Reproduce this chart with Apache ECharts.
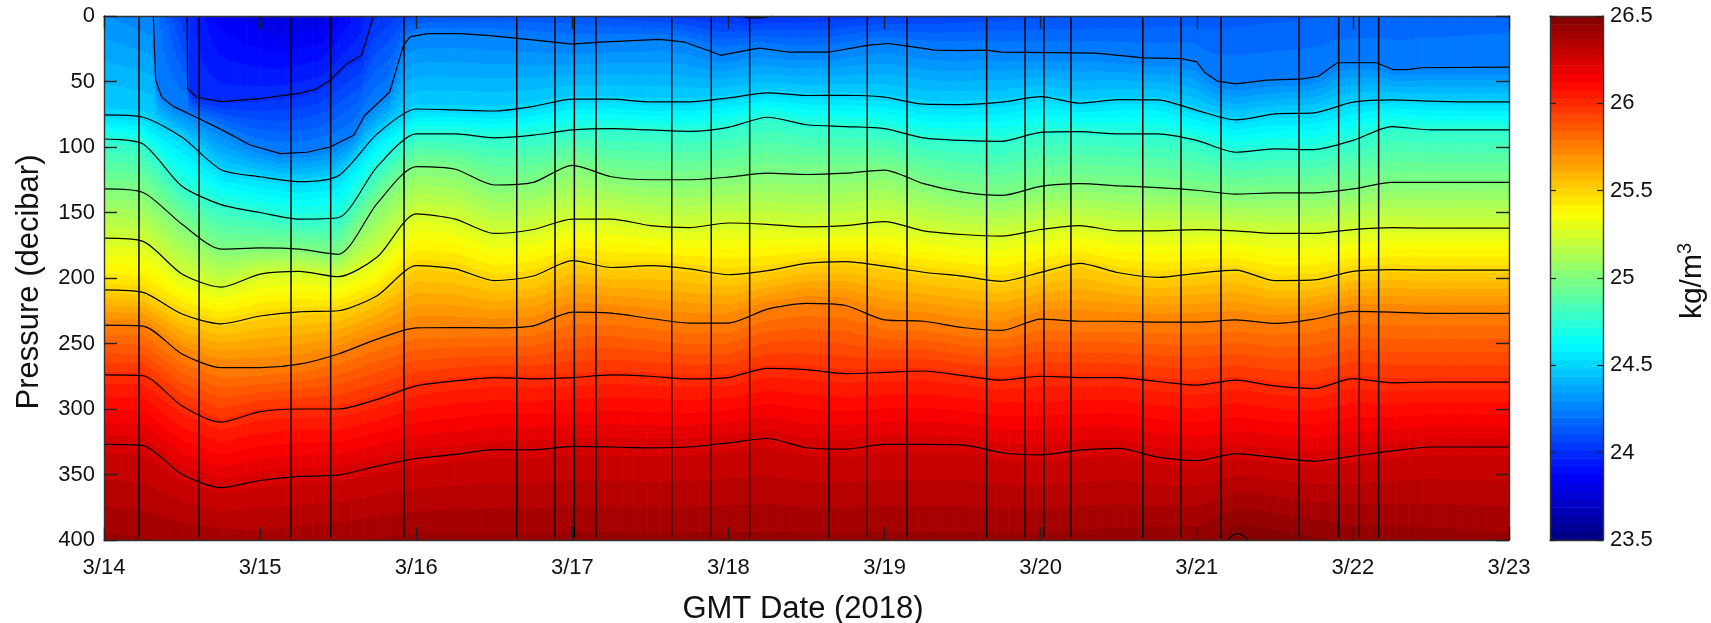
<!DOCTYPE html>
<html><head><meta charset="utf-8">
<style>html,body{margin:0;padding:0;background:#fff}#c{width:1711px;height:623px}</style>
<script src="https://cdn.jsdelivr.net/npm/echarts@6/dist/echarts.min.js"></script>
</head><body><div id="c"></div>
<script>
// ---- values ----
const dateLabels = ['3/14','3/15','3/16','3/17','3/18','3/19','3/20','3/21','3/22','3/23'];
// sample times, days after 3/14
const days = [0,0.25,0.5,0.75,1,1.25,1.5,1.75,2,2.25,2.5,2.75,3,3.25,3.5,3.75,4,4.25,4.5,4.75,5,5.25,5.5,5.75,6,6.25,6.5,6.75,7,7.25,7.5,7.75,8,8.25,8.5,8.75,9];
// pressure of each isopycnal (decibar)
const rho245  = [75.5,77.3,92.6,117.3,122.7,126.5,122,90,71,71.7,72.5,69,63.5,63.5,65.6,65.6,62.5,58.7,60.7,60.5,62,67.3,67.6,65.8,61.5,66.6,63.8,64,72,79.3,74.7,74,65.8,64,65,65.6,65.6];
const rho2475 = [93.9,97.7,130,144,150,155,154,115,90,90,93,91,87,86,87,88,85,77.3,83,84.4,86,93,95,95.7,88.8,88.3,90,90,95,104,101.5,102,95,84.4,87,87,87];
const rho250  = [132,134.7,159,178,177,178,182,143,115,117,129,127,114,122.7,125,125,123,120,121,120,117.6,128,134.5,137,130,128,129.6,131,133,136,135,135,132,127,127,127,127];
const rho2525 = [169.6,172,197,207,197,195,199,184,151,155,166,163,155,155,160,161.5,158,159,161,160,157,164,166.8,168,163,160,164,164,163,164,166,166,163,161.5,162,162,162];
const rho255  = [209,211,227.5,235,229,225.8,225,213.5,190.6,193,202,198.5,186.7,192,190.6,193,197.5,194.4,188.8,187.5,191,195.6,198.6,202.5,195.7,188.8,196,199.5,196.4,194,202,201.5,194.9,193.6,194,194,194];
const rho2575 = [236,236.7,258,268.4,268.4,265.8,258,246.7,238,237.8,238,236.5,226,226.8,230.9,234.4,234.4,223.7,219.4,221,231.9,233,237.8,240,231.4,233,233,233.7,233.7,232,234.7,231.4,225.5,226,227,227,227];
const rho260  = [274,274.6,297.7,310,302,300,300,292.6,282.4,278.6,276,277,276,274,275,277,276,269,270,273,272,271,274.5,278,275,276,276,279,281.8,278,282.4,284.5,276.8,280,279.5,279.5,279.5];
const rho2625 = [327,328,350,360,354.6,351.5,350.5,343.6,337.8,334.7,331,331.2,328.6,329,329.6,329,325.8,322.5,329.6,330.6,327,327,327.4,333.4,335,331.4,330,336.8,339.4,334,337,339.8,336,332,329,329,329];
// the two shallow isopycnals reach the surface, so they have their own times
const rho2425Days = [0.316,0.331,0.37,0.444,0.604,0.765,0.935,1.128,1.3,1.448,1.6,1.67,1.83,1.865,1.918,1.96,2.07,2.28,2.47,2.73,2.88,3.0,3.18,3.56,3.72,3.86,3.95,4.15,4.2,4.38,4.65,4.89,5.02,5.15,5.32,5.49,5.65,5.75,6.35,6.66,6.9,7.0,7.05,7.13,7.25,7.45,7.68,7.78,7.9,8.15,8.26,8.35,8.44,9];
const rho2425 = [0,49,62,69,78,87.5,98.5,105,104,100,91,76,58,44,22.4,16,13.5,13.5,15,18,20,21.4,20,17.9,20,26,30,25.5,24.5,27.5,27.5,22.4,21,23,26,26.5,26,27.6,28.3,32,32.6,35,42.9,49.7,51.8,49,48,46,35.7,35.7,41,41,39.5,39];
const rho240Days = [0.532,0.536,0.594,0.75,1.0,1.25,1.363,1.448,1.555,1.65,1.68,1.725];
const rho240 = [0,55.6,62,65.3,63,59,55.6,49,36.5,30,18.6,0];
// tiny closed contours touching the top and bottom edge
const topBumpDays = [4.08,4.12,4.22,4.28];
const topBump = [0,1.5,1.5,0];
const bottomBumpDays = [7.2,7.23,7.27,7.3,7.33];
const bottomBump = [400,396,395,397,400];
// density at the surface and at 400 decibar
const surfaceDays = [0,0.316,0.532,0.75,1.1,1.4,1.725,2,2.5,3,4.1,5,6,7,8,9];
const surfaceRho = [24.3,24.25,24.0,23.85,23.77,23.8,24.0,24.1,24.13,24.12,24.0,24.05,24.1,24.13,24.16,24.18];
const bottomDays = [0,1,2,3,4,5,6,7,7.3,8,9];
const bottomRho = [26.42,26.38,26.42,26.42,26.42,26.42,26.42,26.44,26.5,26.44,26.42];
// CTD profile times
const stationDays = [0.224,0.609,1.198,1.452,1.922,2.644,2.889,3.013,3.152,3.637,3.89,4.136,4.644,4.889,5.144,5.654,5.9,6.021,6.194,6.654,6.899,7.155,7.655,7.909,8.041,8.165];

// ---- tables built from the arrays above ----
const isopycnals = [
  {rho:24.0,  xs:rho240Days,  ps:rho240},
  {rho:24.25, xs:rho2425Days, ps:rho2425},
  {rho:24.5,  xs:days, ps:rho245},
  {rho:24.75, xs:days, ps:rho2475},
  {rho:25.0,  xs:days, ps:rho250},
  {rho:25.25, xs:days, ps:rho2525},
  {rho:25.5,  xs:days, ps:rho255},
  {rho:25.75, xs:days, ps:rho2575},
  {rho:26.0,  xs:days, ps:rho260},
  {rho:26.25, xs:days, ps:rho2625}
];
const RMIN = 23.5, RMAX = 26.5, NBANDS = 64;
function clamp01(v){return Math.max(0,Math.min(1,v));}
function jet(v){
  const r=clamp01(Math.min(4*v-1.5,-4*v+4.5)), g=clamp01(Math.min(4*v-0.5,-4*v+3.5)), b=clamp01(Math.min(4*v+0.5,-4*v+2.5));
  return 'rgb('+Math.round(r*255)+','+Math.round(g*255)+','+Math.round(b*255)+')';
}
const bandColors=[]; for(let i=0;i<NBANDS;i++) bandColors.push(jet((i+0.5)/NBANDS));
function bandOf(rho){return Math.max(0,Math.min(NBANDS-1,Math.floor((rho-RMIN)/(RMAX-RMIN)*NBANDS)));}
function at(xs,ys,x){
  if(x<xs[0]||x>xs[xs.length-1]) return null;
  for(let i=1;i<xs.length;i++){ if(x<=xs[i]){const t=(x-xs[i-1])/(xs[i]-xs[i-1]); return ys[i-1]+t*(ys[i]-ys[i-1]);} }
  return ys[ys.length-1];
}
function columnStops(d){
  const knots=[{p:0,r:at(surfaceDays,surfaceRho,d)}];
  isopycnals.forEach(function(l){
    const p=at(l.xs,l.ps,d), last=knots[knots.length-1];
    if(p!==null&&p>last.p&&p<400&&l.rho>last.r) knots.push({p:p,r:l.rho});
  });
  knots.push({p:400,r:at(bottomDays,bottomRho,d)});
  const stops=[]; let band=bandOf(knots[0].r);
  stops.push({offset:0,color:bandColors[band]});
  for(let k=1;k<knots.length;k++){
    const a=knots[k-1], b=knots[k], end=bandOf(b.r);
    while(band<end){
      const edge=RMIN+(band+1)*(RMAX-RMIN)/NBANDS;
      const off=Math.max(0,Math.min(1,(a.p+(edge-a.r)/(b.r-a.r)*(b.p-a.p))/400));
      stops.push({offset:off,color:bandColors[band]});
      band++;
      stops.push({offset:off,color:bandColors[band]});
    }
  }
  stops.push({offset:1,color:bandColors[band]});
  return stops;
}
const columns=[]; for(let i=0;i<432;i++) columns.push([i/48,(i+1)/48]);
const levelCells=[]; for(let i=0;i<NBANDS;i++) levelCells.push([i,RMIN+i*(RMAX-RMIN)/NBANDS,RMIN+(i+1)*(RMAX-RMIN)/NBANDS]);

function pairs(xs,ps){return xs.map(function(x,i){return [x,ps[i]];});}
function contour(data,smooth){return {type:'line',xAxisIndex:0,yAxisIndex:0,data:data,showSymbol:false,symbol:'none',smooth:smooth,silent:true,z:5,clip:true,
  lineStyle:{color:'#000',width:1.2},animation:false};}

const FONT='"Liberation Sans",Arial,sans-serif';
const labelStyle={color:'#111',fontSize:22,fontFamily:FONT};
const edge={onZero:false,lineStyle:{color:'#333',width:1.4}};
const yLabelAlign={verticalAlignMinLabel:'middle',verticalAlignMaxLabel:'middle',padding:[4,0,0,0]};

const series=[
 {type:'custom',xAxisIndex:0,yAxisIndex:0,data:columns,progressive:0,silent:true,z:1,clip:true,animation:false,
  encode:{x:[0,1]},
  renderItem:function(params,api){
    const d0=api.value(0), d1=api.value(1);
    const a=api.coord([d0,0]), b=api.coord([d1,400]);
    return {type:'rect',shape:{x:a[0],y:a[1],width:b[0]-a[0]+0.7,height:b[1]-a[1]},
      style:{fill:new echarts.graphic.LinearGradient(0,a[1],0,b[1],columnStops((d0+d1)/2),true)}};
  }},
 {type:'custom',xAxisIndex:2,yAxisIndex:2,data:levelCells,progressive:0,silent:true,z:1,animation:false,
  encode:{y:[1,2]},
  renderItem:function(params,api){
    const i=api.value(0);
    const a=api.coord([0,api.value(2)]), b=api.coord([1,api.value(1)]);
    return {type:'rect',shape:{x:a[0],y:a[1],width:b[0]-a[0],height:b[1]-a[1]+0.6},style:{fill:bandColors[i]}};
  }}
];
stationDays.forEach(function(d){
  const s=contour([[d,1],[d,398]],false); s.lineStyle={color:'#000',width:1.5}; s.z=6; series.push(s);
});
[[rho240Days,rho240,false],[rho2425Days,rho2425,false],[days,rho245,0.25],[days,rho2475,0.25],[days,rho250,0.25],[days,rho2525,0.25],
 [days,rho255,0.25],[days,rho2575,0.25],[days,rho260,0.25],[days,rho2625,0.25],[topBumpDays,topBump,false],[bottomBumpDays,bottomBump,false]
].forEach(function(c){series.push(contour(pairs(c[0],c[1]),c[2]));});

const option={
 animation:false,backgroundColor:'#fff',
 grid:[{left:104,top:16,width:1405,height:524,outerBoundsMode:'none'},{left:1550,top:16,width:53,height:524,outerBoundsMode:'none'}],
 xAxis:[
  {gridIndex:0,type:'value',min:0,max:9,interval:1,position:'bottom',z:10,splitLine:{show:false},axisLine:edge,
   axisTick:{inside:true,length:13,lineStyle:{color:'#222',width:1.4}},
   axisLabel:Object.assign({margin:17,formatter:function(v){return dateLabels[v];}},labelStyle),
   name:'GMT Date (2018)',nameLocation:'middle',nameGap:54,nameTextStyle:{color:'#111',fontSize:31,fontFamily:FONT,padding:[0,7,0,0]}},
  {gridIndex:0,type:'value',min:0,max:9,interval:1,position:'top',z:10,splitLine:{show:false},axisLine:edge,
   axisTick:{inside:true,length:13,lineStyle:{color:'#222',width:1.4}},axisLabel:{show:false}},
  {gridIndex:1,type:'value',min:0,max:1,position:'bottom',z:10,splitLine:{show:false},axisLine:edge,axisTick:{show:false},axisLabel:{show:false}},
  {gridIndex:1,type:'value',min:0,max:1,position:'top',z:10,splitLine:{show:false},axisLine:edge,axisTick:{show:false},axisLabel:{show:false}}
 ],
 yAxis:[
  {gridIndex:0,type:'value',min:0,max:400,interval:50,inverse:true,position:'left',z:10,splitLine:{show:false},axisLine:edge,
   axisTick:{inside:true,length:13,lineStyle:{color:'#222',width:1.4}},
   axisLabel:Object.assign({margin:9},yLabelAlign,labelStyle),
   name:'Pressure (decibar)',nameLocation:'middle',nameGap:59,nameTextStyle:{color:'#111',fontSize:31,fontFamily:FONT,padding:[0,8,0,0]}},
  {gridIndex:0,type:'value',min:0,max:400,interval:50,inverse:true,position:'right',z:10,splitLine:{show:false},axisLine:edge,
   axisTick:{inside:true,length:13,lineStyle:{color:'#222',width:1.4}},axisLabel:{show:false}},
  {gridIndex:1,type:'value',min:23.5,max:26.5,interval:0.5,position:'right',z:10,splitLine:{show:false},axisLine:edge,
   axisTick:{inside:true,length:6,lineStyle:{color:'#222',width:1.2}},
   axisLabel:Object.assign({margin:7},yLabelAlign,labelStyle),
   name:'{a|kg/m}{b|3}',nameLocation:'middle',nameGap:72,nameRotate:90,
   nameTextStyle:{padding:[0,6,0,0],rich:{a:{fontSize:30,fontFamily:FONT,color:'#111'},b:{fontSize:20,fontFamily:FONT,color:'#111',padding:[0,0,16,0]}}}},
  {gridIndex:1,type:'value',min:23.5,max:26.5,interval:0.5,position:'left',z:10,splitLine:{show:false},axisLine:edge,
   axisTick:{inside:true,length:6,lineStyle:{color:'#222',width:1.2}},axisLabel:{show:false}}
 ],
 series:series
};
const chart=echarts.init(document.getElementById('c'),null,{renderer:'canvas',width:1711,height:623});
chart.setOption(option);
</script></body></html>
